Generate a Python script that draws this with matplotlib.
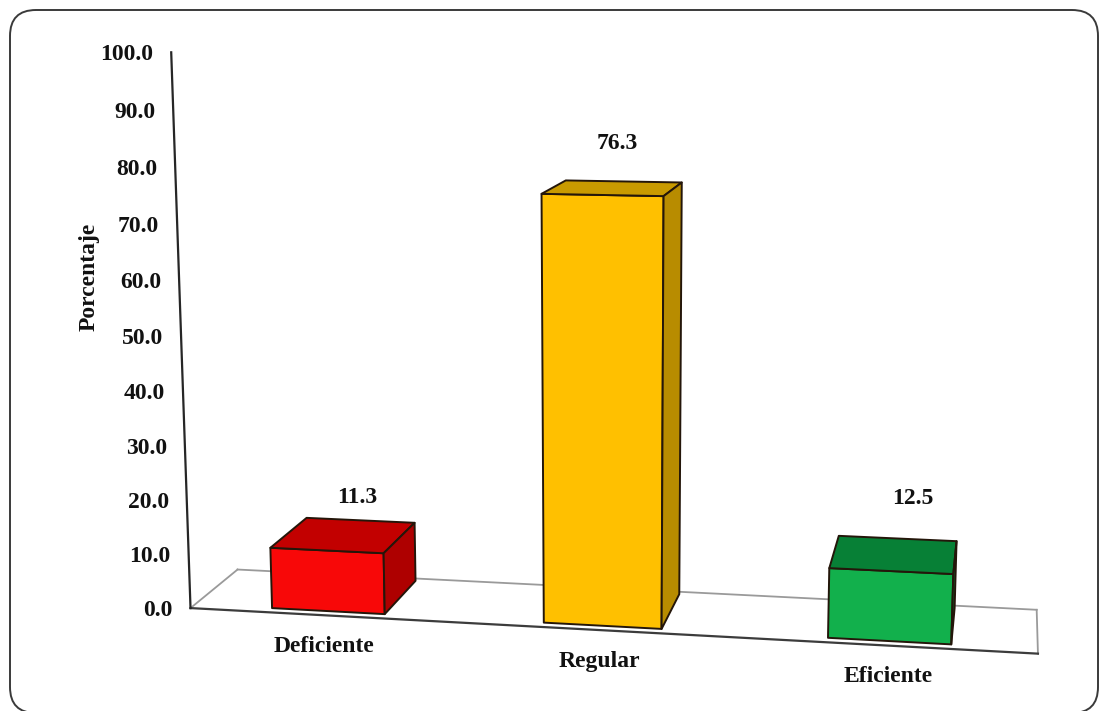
#!/usr/bin/env python3
"""3D-style column chart of the percentage per level (Deficiente / Regular / Eficiente)."""

import numpy as np
import matplotlib

matplotlib.use("Agg")
import matplotlib.pyplot as plt
from matplotlib.patches import FancyBboxPatch, Polygon


CATEGORIES = ["Deficiente", "Regular", "Eficiente"]
PERCENTAGES = [11.3, 76.3, 12.5]
Y_TICKS = [0, 10, 20, 30, 40, 50, 60, 70, 80, 90, 100]
Y_LABEL = "Porcentaje"

# front, top, side shades per column
FRONT_COLORS = ["#f80808", "#ffc000", "#12b04c"]
TOP_COLORS = ["#c20000", "#c99a00", "#078036"]
SIDE_COLORS = ["#ae0000", "#b88c00", "#05702e"]

# perspective camera: world (x = category, y = percent, z = depth) -> canvas pixels
CAMERA = np.array([
    [259.73317, -0.26896626, 61.385077, 190.51515],
    [0.86477558, -5.5808493, -4.1731467, 608.08293],
    [-0.021912591, -0.00044329234, 0.060357484, 1.0],
])
BAR_HALF_WIDTH = 0.21
BAR_Z = (0.10, 0.94)
FLOOR_X = (0.0, 3.0)
FLOOR_Z = (0.0, 1.0)

# pixel nudges for the value labels, measured from the top back edge of each column
LABEL_NUDGE = [(-3, -23), (-6, -38), (15, -40)]

W, H = 1099, 711
SERIF = ["Liberation Serif", "DejaVu Serif"]
FONT_SIZE = 17

plt.rcParams.update({"font.family": SERIF, "font.weight": "bold"})


def project(x, y, z):
    u, v, s = CAMERA @ np.array([x, y, z, 1.0])
    return u / s, v / s


def camera_centre():
    _, _, vt = np.linalg.svd(CAMERA)
    c = vt[-1]
    return c[:3] / c[3]


def box_faces(x0, x1, y0, y1, z0, z1):
    # (corners, outward normal, kind)
    return [
        ([(x0, y0, z0), (x1, y0, z0), (x1, y1, z0), (x0, y1, z0)], (0, 0, -1), "front"),
        ([(x0, y1, z0), (x1, y1, z0), (x1, y1, z1), (x0, y1, z1)], (0, 1, 0), "top"),
        ([(x1, y0, z0), (x1, y0, z1), (x1, y1, z1), (x1, y1, z0)], (1, 0, 0), "side"),
        ([(x0, y0, z0), (x0, y0, z1), (x0, y1, z1), (x0, y1, z0)], (-1, 0, 0), "side"),
    ]


def draw_frame(ax):
    frame = FancyBboxPatch(
        (10, 10), 1088, 703,
        boxstyle="round,pad=0,rounding_size=26",
        facecolor="white", edgecolor="#3a3a3a", linewidth=1.4, zorder=0,
    )
    ax.add_patch(frame)


def draw_floor(ax):
    xa, xb = FLOOR_X
    za, zb = FLOOR_Z
    corners = [project(xa, 0, za), project(xb, 0, za), project(xb, 0, zb), project(xa, 0, zb)]
    ax.add_patch(Polygon(corners, closed=True, facecolor="white", edgecolor="none", zorder=1))
    for p, q in [(corners[1], corners[2]), (corners[2], corners[3]), (corners[3], corners[0])]:
        ax.plot([p[0], q[0]], [p[1], q[1]], color="#9a9a9a", linewidth=1.3, zorder=2)
    ax.plot([corners[0][0], corners[1][0]], [corners[0][1], corners[1][1]],
            color="#3c3c3c", linewidth=1.6, zorder=2)


def draw_value_axis(ax):
    bottom = project(0, Y_TICKS[0], 0)
    top = project(0, Y_TICKS[-1], 0)
    ax.plot([bottom[0], top[0]], [bottom[1], top[1]], color="#262626", linewidth=1.6, zorder=3)
    for t in Y_TICKS:
        u, v = project(0, t, 0)
        ax.text(u - 18, v + 2, f"{t:.1f}", ha="right", va="center", fontsize=FONT_SIZE,
                fontweight="bold", color="#111111", zorder=4)
    ax.text(89, 277, Y_LABEL, rotation=90, ha="center", va="center", fontsize=FONT_SIZE,
            fontweight="bold", color="#111111", zorder=4)


def draw_columns(ax):
    eye = camera_centre()
    for i, (name, value) in enumerate(zip(CATEGORIES, PERCENTAGES)):
        c = i + 0.5
        faces = box_faces(c - BAR_HALF_WIDTH, c + BAR_HALF_WIDTH, 0, value, *BAR_Z)
        shades = {"front": FRONT_COLORS[i], "top": TOP_COLORS[i], "side": SIDE_COLORS[i]}
        for corners, normal, kind in faces:
            if np.dot(eye - np.array(corners[0]), normal) <= 0:
                continue
            pts = [project(*p) for p in corners]
            ax.add_patch(Polygon(pts, closed=True, facecolor=shades[kind],
                                 edgecolor="#24160a", linewidth=1.4, joinstyle="round",
                                 zorder=5))

        # value label above the column
        u, v = project(c, value, BAR_Z[1])
        du, dv = LABEL_NUDGE[i]
        ax.text(u + du, v + dv, f"{value:.1f}", ha="center", va="center", fontsize=FONT_SIZE,
                fontweight="bold", color="#111111", zorder=6)

        # category label below the front edge
        u, v = project(c, 0, FLOOR_Z[0])
        ax.text(u, v + 31, name, ha="center", va="center", fontsize=FONT_SIZE,
                fontweight="bold", color="#111111", zorder=6)


def main():
    fig = plt.figure(figsize=(W / 100, H / 100), dpi=100)
    ax = fig.add_axes([0, 0, 1, 1])
    ax.set_xlim(0, W)
    ax.set_ylim(H, 0)
    ax.axis("off")

    draw_frame(ax)
    draw_floor(ax)
    draw_value_axis(ax)
    draw_columns(ax)

    fig.savefig("out.png", dpi=100)
    plt.close(fig)


if __name__ == "__main__":
    main()
